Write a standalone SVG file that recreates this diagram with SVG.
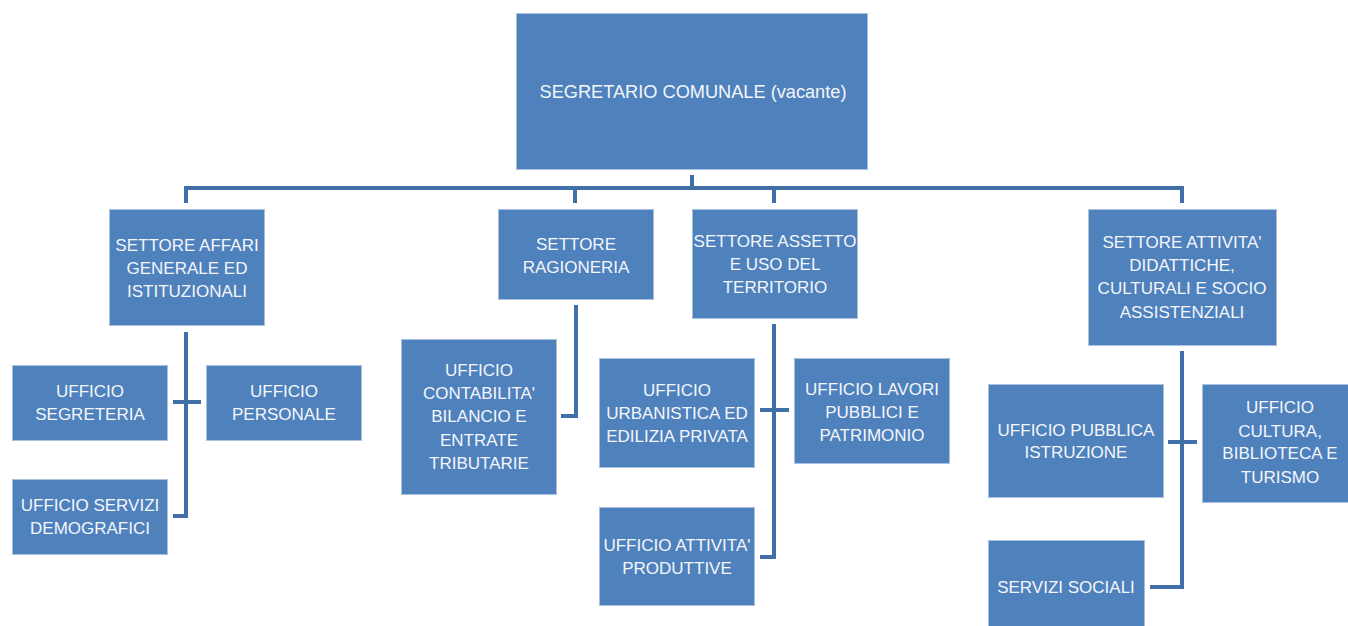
<svg xmlns="http://www.w3.org/2000/svg" width="1348" height="626" viewBox="0 0 1348 626">
<style>
.box{fill:#4F81BD;stroke:#A9C0DE;stroke-width:1}
.t{font-family:"Liberation Sans",Arial,sans-serif;font-size:17px;fill:#F4F6FA;text-anchor:middle}
.big{font-size:18.2px}
.c{fill:none;stroke:#4170A8;stroke-width:4;stroke-linejoin:miter;stroke-linecap:butt}
</style>
<rect width="1348" height="626" fill="#FFFFFF"/>
<g id="connectors">
<path class="c" d="M692,175 V188"/>
<path class="c" d="M186,203 V188 H1182 V203"/>
<path class="c" d="M575,188 V203"/>
<path class="c" d="M774,188 V203"/>
<path class="c" d="M186,332 V516 H173"/>
<path class="c" d="M173,402 H201"/>
<path class="c" d="M576,305 V416 H561"/>
<path class="c" d="M774,324 V557 H760"/>
<path class="c" d="M760,410 H789"/>
<path class="c" d="M1182,351 V587 H1150"/>
<path class="c" d="M1168,442 H1197"/>
</g>
<g id="segretario">
<rect class="box" x="516.5" y="13.5" width="351" height="156"/>
<text class="t big" x="693" y="98">SEGRETARIO COMUNALE (vacante)</text>
</g>
<g id="settore-affari">
<rect class="box" x="109.5" y="209.5" width="155" height="116"/>
<text class="t" x="187" y="251">SETTORE AFFARI</text>
<text class="t" x="187" y="274">GENERALE ED</text>
<text class="t" x="187" y="297">ISTITUZIONALI</text>
</g>
<g id="ufficio-segreteria">
<rect class="box" x="12.5" y="365.5" width="155" height="75"/>
<text class="t" x="90" y="397">UFFICIO</text>
<text class="t" x="90" y="420">SEGRETERIA</text>
</g>
<g id="ufficio-personale">
<rect class="box" x="206.5" y="365.5" width="155" height="75"/>
<text class="t" x="284" y="397">UFFICIO</text>
<text class="t" x="284" y="420">PERSONALE</text>
</g>
<g id="ufficio-demografici">
<rect class="box" x="12.5" y="479.5" width="155" height="75"/>
<text class="t" x="90" y="511">UFFICIO SERVIZI</text>
<text class="t" x="90" y="534">DEMOGRAFICI</text>
</g>
<g id="settore-ragioneria">
<rect class="box" x="498.5" y="209.5" width="155" height="90"/>
<text class="t" x="576" y="250">SETTORE</text>
<text class="t" x="576" y="273">RAGIONERIA</text>
</g>
<g id="ufficio-contabilita">
<rect class="box" x="401.5" y="339.5" width="155" height="155"/>
<text class="t" x="479" y="376">UFFICIO</text>
<text class="t" x="479" y="399">CONTABILITA'</text>
<text class="t" x="479" y="422">BILANCIO E</text>
<text class="t" x="479" y="446">ENTRATE</text>
<text class="t" x="479" y="469">TRIBUTARIE</text>
</g>
<g id="settore-assetto">
<rect class="box" x="692.5" y="209.5" width="165" height="109"/>
<text class="t" x="775" y="247">SETTORE ASSETTO</text>
<text class="t" x="775" y="270">E USO DEL</text>
<text class="t" x="775" y="293">TERRITORIO</text>
</g>
<g id="ufficio-urbanistica">
<rect class="box" x="599.5" y="358.5" width="155" height="109"/>
<text class="t" x="677" y="396">UFFICIO</text>
<text class="t" x="677" y="419">URBANISTICA ED</text>
<text class="t" x="677" y="442">EDILIZIA PRIVATA</text>
</g>
<g id="ufficio-lavori">
<rect class="box" x="794.5" y="358.5" width="155" height="105"/>
<text class="t" x="872" y="395">UFFICIO LAVORI</text>
<text class="t" x="872" y="418">PUBBLICI E</text>
<text class="t" x="872" y="441">PATRIMONIO</text>
</g>
<g id="ufficio-attivita">
<rect class="box" x="599.5" y="507.5" width="155" height="98"/>
<text class="t" x="677" y="551">UFFICIO ATTIVITA'</text>
<text class="t" x="677" y="574">PRODUTTIVE</text>
</g>
<g id="settore-attivita">
<rect class="box" x="1088.5" y="209.5" width="188" height="136"/>
<text class="t" x="1182" y="248">SETTORE ATTIVITA'</text>
<text class="t" x="1182" y="271">DIDATTICHE,</text>
<text class="t" x="1182" y="294">CULTURALI E SOCIO</text>
<text class="t" x="1182" y="318">ASSISTENZIALI</text>
</g>
<g id="ufficio-istruzione">
<rect class="box" x="988.5" y="384.5" width="175" height="113"/>
<text class="t" x="1076" y="436">UFFICIO PUBBLICA</text>
<text class="t" x="1076" y="458">ISTRUZIONE</text>
</g>
<g id="ufficio-cultura">
<rect class="box" x="1202.5" y="384.5" width="155" height="118"/>
<text class="t" x="1280" y="413">UFFICIO</text>
<text class="t" x="1280" y="437">CULTURA,</text>
<text class="t" x="1280" y="459">BIBLIOTECA E</text>
<text class="t" x="1280" y="483">TURISMO</text>
</g>
<g id="servizi-sociali">
<rect class="box" x="988.5" y="540.5" width="156" height="92"/>
<text class="t" x="1066" y="593">SERVIZI SOCIALI</text>
</g>
</svg>
